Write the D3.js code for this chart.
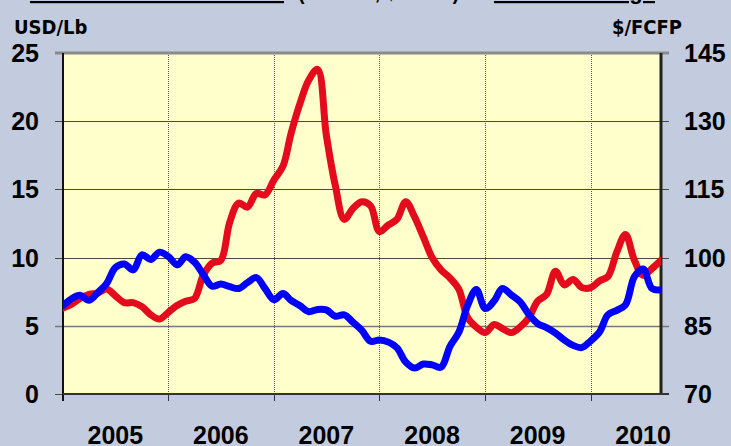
<!DOCTYPE html>
<html><head><meta charset="utf-8">
<script src="https://cdn.jsdelivr.net/npm/d3@7/dist/d3.min.js"></script>
<style>
html,body{margin:0;padding:0;background:#C2CCDE;}
svg{display:block;}
text{font-family:"Liberation Sans",Arial,sans-serif;font-weight:bold;fill:#000;}
</style></head><body>
<svg id="chart" width="731" height="446"></svg>
<script>
const startMonth = "2005-01";
const yearLabels = ["2005","2006","2007","2008","2009","2010"];
const leftTicks = [0,5,10,15,20,25];
const rightTicks = [70,85,100,115,130,145];
const redSeries = [6.3,6.6,7.0,7.3,7.4,7.7,7.2,6.7,6.7,6.4,5.8,5.5,
  6.0,6.5,6.8,7.0,8.7,9.6,9.8,12.6,14.0,13.7,14.7,14.6,
  15.7,16.7,19.1,21.3,23.0,23.8,19.0,15.3,12.8,13.6,14.1,13.8,
  11.9,12.4,12.8,14.1,13.0,11.5,10.0,9.1,8.5,7.7,5.6,4.9,
  4.5,5.1,4.8,4.5,4.9,5.6,6.8,7.3,9.0,8.0,8.4,7.8,
  7.8,8.3,8.6,10.4,11.7,9.8,8.7,9.2,9.8];
const blueSeries = [89.4,91.0,91.7,90.6,92.3,94.3,97.8,98.6,97.3,100.6,99.6,101.2,
  100.2,98.4,100.2,99.0,96.3,93.7,94.2,93.6,93.2,94.5,95.6,93.2,
  90.7,92.1,90.6,89.4,88.1,88.6,88.5,87.1,87.4,85.8,84.0,81.6,
  81.9,81.4,80.2,77.0,75.7,76.6,76.4,75.9,80.5,83.5,89.5,93.0,
  88.8,90.5,93.2,91.8,90.3,87.5,85.5,84.6,83.4,81.9,80.7,80.2,
  81.7,83.7,87.4,88.4,89.6,95.8,97.5,93.2,92.9];
const leftUnit = "USD/Lb";
const rightUnit = "$/FCFP";
const titleParts = ["Prix de la vanille verte", "(USD/Lb, $/FCFP) et", "taux de change"];

const svg = d3.select("#chart");
const m = {l:63, r:661, t:53, b:394};
const parse = d3.timeParse("%Y-%m");
const t0 = parse(startMonth);
const dates = redSeries.map((_, i) => d3.timeMonth.offset(t0, i));
const x = d3.scaleTime().domain([t0, dates[dates.length-1]]).range([m.l, m.r]);
const yL = d3.scaleLinear().domain([0,25]).range([m.b, m.t]);
const yR = d3.scaleLinear().domain([70,145]).range([m.b, m.t]);

// title (cut off at top in the reference)
const title = svg.append("text").attr("y", -1).attr("font-size", 22);
title.append("tspan").attr("x", 30).attr("text-decoration","underline")
  .attr("textLength", 254).attr("lengthAdjust","spacingAndGlyphs").text(titleParts[0]);
title.append("tspan").attr("x", 298).attr("textLength", 184).attr("lengthAdjust","spacingAndGlyphs").text(titleParts[1]);
title.append("tspan").attr("x", 494).attr("text-decoration","underline")
  .attr("textLength", 161).attr("lengthAdjust","spacingAndGlyphs").text(titleParts[2]);

// plot bg
svg.append("rect").attr("x", m.l).attr("y", m.t).attr("width", m.r-m.l).attr("height", m.b-m.t).attr("fill", "#FFFFCC");

// horizontal grid + outer ticks
const g = svg.append("g");
leftTicks.forEach(v => {
  const yy = Math.round(yL(v)) + 0.5;
  g.append("line").attr("x1", m.l-8).attr("x2", m.r+8).attr("y1", yy).attr("y2", yy)
   .attr("stroke", v===5 ? "#777" : "#4a4a3a").attr("stroke-width", v===5 ? 1.5 : 1);
});
// vertical dotted grid at years
const yearDates = yearLabels.map(y => parse(y + "-01"));
yearDates.forEach((d, i) => {
  const xx = Math.round(x(d)) + 0.5;
  if (i > 0) g.append("line").attr("x1", xx).attr("x2", xx).attr("y1", m.t).attr("y2", m.b)
    .attr("stroke", "#555").attr("stroke-width", 1).attr("stroke-dasharray", "1,1");
  g.append("line").attr("x1", xx).attr("x2", xx).attr("y1", m.b).attr("y2", m.b+7)
    .attr("stroke", "#333").attr("stroke-width", 1);
});

// borders
svg.append("line").attr("x1", m.l-8).attr("x2", m.r+8).attr("y1", m.t).attr("y2", m.t).attr("stroke", "#8a8a8a").attr("stroke-width", 3);
svg.append("line").attr("x1", m.l).attr("x2", m.l).attr("y1", m.t).attr("y2", m.b+7).attr("stroke", "#111").attr("stroke-width", 2);
svg.append("line").attr("x1", m.r).attr("x2", m.r).attr("y1", m.t).attr("y2", m.b).attr("stroke", "#222").attr("stroke-width", 3);
svg.append("line").attr("x1", m.l).attr("x2", m.r+8).attr("y1", m.b).attr("y2", m.b).attr("stroke", "#333").attr("stroke-width", 2);

// lines
svg.append("clipPath").attr("id","clip").append("rect")
  .attr("x", m.l).attr("y", m.t).attr("width", m.r-m.l).attr("height", m.b-m.t);
const lineL = d3.line().x((d,i)=>x(dates[i])).y(d=>yL(d)).curve(d3.curveCatmullRom.alpha(0.5));
const lineR = d3.line().x((d,i)=>x(dates[i])).y(d=>yR(d)).curve(d3.curveCatmullRom.alpha(0.5));
const lg = svg.append("g").attr("clip-path","url(#clip)");
lg.append("path").datum(redSeries).attr("d", lineL).attr("fill","none")
  .attr("stroke","#E30B1C").attr("stroke-width",7).attr("stroke-linejoin","round").attr("stroke-linecap","round");
lg.append("path").datum(blueSeries).attr("d", lineR).attr("fill","none")
  .attr("stroke","#0000FF").attr("stroke-width",7).attr("stroke-linejoin","round").attr("stroke-linecap","round");

// axis labels
leftTicks.forEach(v => {
  svg.append("text").attr("x", 39).attr("y", yL(v)).attr("dy","0.36em")
    .attr("text-anchor","end").attr("font-size", 25).text(v);
});
rightTicks.forEach(v => {
  svg.append("text").attr("x", 684).attr("y", yR(v)).attr("dy","0.36em")
    .attr("text-anchor","start").attr("font-size", 25).text(v);
});
yearDates.forEach((d, i) => {
  const mid = d3.timeMonth.offset(d, 6);
  svg.append("text").attr("x", x(mid)).attr("y", 444)
    .attr("text-anchor","middle").attr("font-size", 25).text(yearLabels[i]);
});
svg.append("text").attr("x", 14).attr("y", 34).attr("font-size", 20)
  .style("font-family","'Liberation Sans Narrow','DejaVu Sans Condensed',Arial").text(leftUnit);
svg.append("text").attr("x", 682).attr("y", 34).attr("font-size", 20).attr("text-anchor","end")
  .style("font-family","'Liberation Sans Narrow','DejaVu Sans Condensed',Arial").text(rightUnit);
</script>
</body></html>
